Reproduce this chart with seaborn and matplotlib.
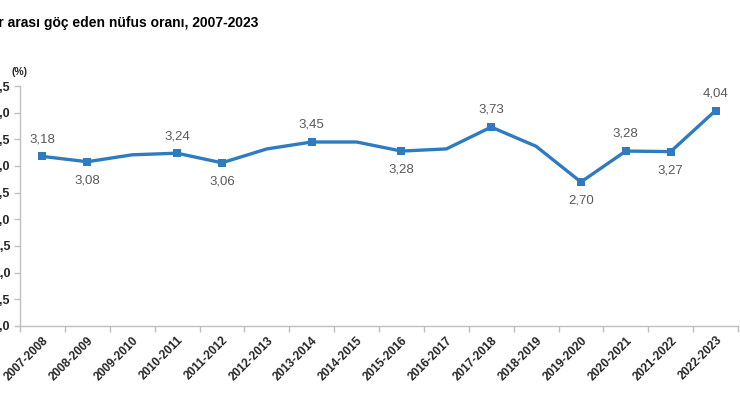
import numpy as np
import pandas as pd
import matplotlib
matplotlib.use("Agg")
import matplotlib.pyplot as plt
import seaborn as sns

periods = ["2007-2008", "2008-2009", "2009-2010", "2010-2011", "2011-2012",
           "2012-2013", "2013-2014", "2014-2015", "2015-2016", "2016-2017",
           "2017-2018", "2018-2019", "2019-2020", "2020-2021", "2021-2022",
           "2022-2023"]
rates = [3.18, 3.08, 3.21, 3.24, 3.06, 3.32, 3.45, 3.45, 3.28, 3.32,
         3.73, 3.37, 2.70, 3.28, 3.27, 4.04]
labeled = [True, True, False, True, True, False, True, False, True, False,
           True, False, True, True, True, True]
label_above = [True, False, None, True, False, None, True, None, False, None,
               True, None, False, True, False, True]
yticks = [0.0, 0.5, 1.0, 1.5, 2.0, 2.5, 3.0, 3.5, 4.0, 4.5]
title = "İller arası göç eden nüfus oranı, 2007-2023"

sns.set_theme(style="white")
plt.rcParams["font.family"] = ["Liberation Sans", "DejaVu Sans"]

df = pd.DataFrame({"pos": np.arange(len(periods)), "period": periods,
                   "rate": rates, "labeled": labeled})

fig = plt.figure(figsize=(7.4, 4.2), dpi=100)
ax = fig.add_axes([20/740, 1-326/420, 718/740, (326-86)/420])

color = "#2F7BBF"
sns.lineplot(data=df, x="pos", y="rate", ax=ax, color=color, linewidth=2.4)
sns.scatterplot(data=df[df["labeled"]], x="pos", y="rate", ax=ax, color=color,
                marker="s", s=30, edgecolor=color, linewidth=0, zorder=5)

for i, (v, lab, up) in enumerate(zip(rates, labeled, label_above)):
    if not lab:
        continue
    txt = f"{v:.2f}".replace(".", ",")
    off = 8 if up else -9
    ax.annotate(txt, (i, v), xytext=(0, off), textcoords="offset points",
                ha="center", va="bottom" if up else "top",
                fontsize=9.5, color="#595959")

ax.set_xlim(-0.5, 15.5)
ax.set_ylim(0, 4.5)
ax.set_yticks(yticks)
ax.set_yticklabels([f"{t:.1f}".replace(".", ",") for t in yticks],
                   fontsize=9, fontweight="bold", color="#262626")
ax.set_xticks(df["pos"])
ax.set_xticklabels(periods, rotation=45, ha="right", rotation_mode="anchor",
                   fontsize=8.5, fontweight="bold", color="#262626")
ax.set_xticks(np.arange(-0.5, 16, 1), minor=True)
ax.tick_params(axis="x", which="major", length=0, pad=6)
ax.tick_params(axis="x", which="minor", length=4, color="#BFBFBF", width=1,
               bottom=True)
ax.tick_params(axis="y", length=4, color="#BFBFBF", width=1, left=True, pad=3)
ax.set_xlabel("")
ax.set_ylabel("")

for s in ["top", "right"]:
    ax.spines[s].set_visible(False)
for s in ["left", "bottom"]:
    ax.spines[s].set_color("#BFBFBF")
    ax.spines[s].set_linewidth(1)

fig.text(-21/740, 1-22/420, title, fontsize=10, fontweight="bold",
         color="#000000", ha="left", va="center")
fig.text(12/740, 1-72/420, "(%)", fontsize=7.5, fontweight="bold",
         color="#262626", ha="left", va="center")

fig.savefig("out.png", dpi=100)
